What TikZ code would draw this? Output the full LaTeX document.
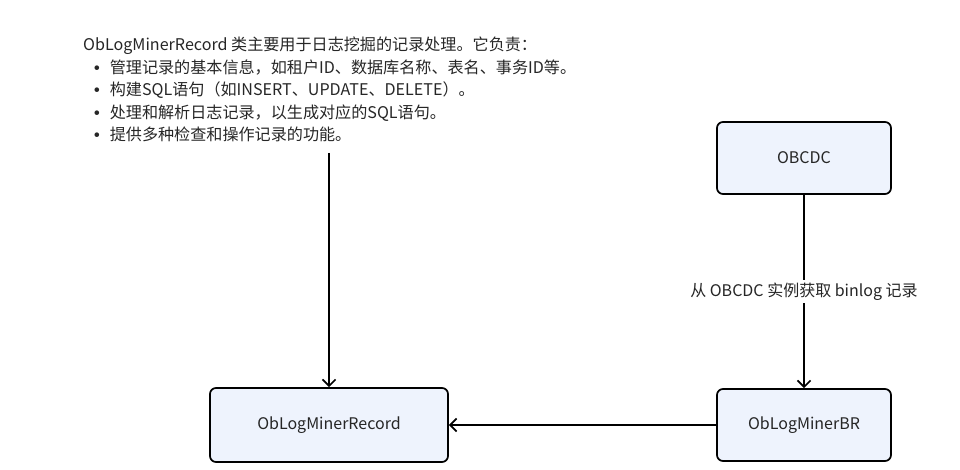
\documentclass[tikz,border=0pt]{standalone}
\usepackage{fontspec}
\setmainfont{Noto Sans CJK SC}
\newfontfamily\bulletfont{Liberation Sans}
\usetikzlibrary{arrows.meta}
\definecolor{boxfill}{HTML}{EEF3FD}
\definecolor{txt}{HTML}{262626}
\newcommand{\bitem}{\hspace*{11pt}{\bulletfont\bfseries •}\hspace{10pt}}
\tikzset{
  x=1pt, y=-1pt,
  box/.style={draw=black, line width=1.7pt, fill=boxfill, rounded corners=6pt,
    minimum width=174pt, minimum height=72pt, font=\fontsize{16}{19}\selectfont, text=txt},
  conn/.style={draw=black, line width=1.7pt, -{Straight Barb[length=6.5pt,width=13pt,line width=1.7pt]}},
  lbl/.style={fill=white, font=\fontsize{16}{19}\selectfont, text=txt, inner sep=3pt},
}
\begin{document}
\begin{tikzpicture}
\useasboundingbox (0,0) rectangle (960,470);
\node[box, minimum width=238pt, minimum height=74pt] (rec) at (329,425) {ObLogMinerRecord};
\node[box] (br) at (804,425) {ObLogMinerBR};
\node[box] (cdc) at (804,158) {OBCDC};
\node[anchor=north west, align=left, inner sep=0pt, text=txt,
  font=\fontsize{16.1}{22.5}\selectfont] (note) at (83,37) {%
ObLogMinerRecord 类主要用于日志挖掘的记录处理。它负责：\\
\bitem 管理记录的基本信息，如租户ID、数据库名称、表名、事务ID等。\\
\bitem 构建SQL语句（如INSERT、UPDATE、DELETE）。\\
\bitem 处理和解析日志记录，以生成对应的SQL语句。\\
\bitem 提供多种检查和操作记录的功能。};
\coordinate (nstart) at (329,153);
\draw[conn] (nstart) -- (rec.north);
\draw[conn] (cdc.south) -- node[lbl] {从 OBCDC 实例获取 binlog 记录} (br.north);
\draw[conn] (br.west) -- (rec.east);
\end{tikzpicture}
\end{document}
